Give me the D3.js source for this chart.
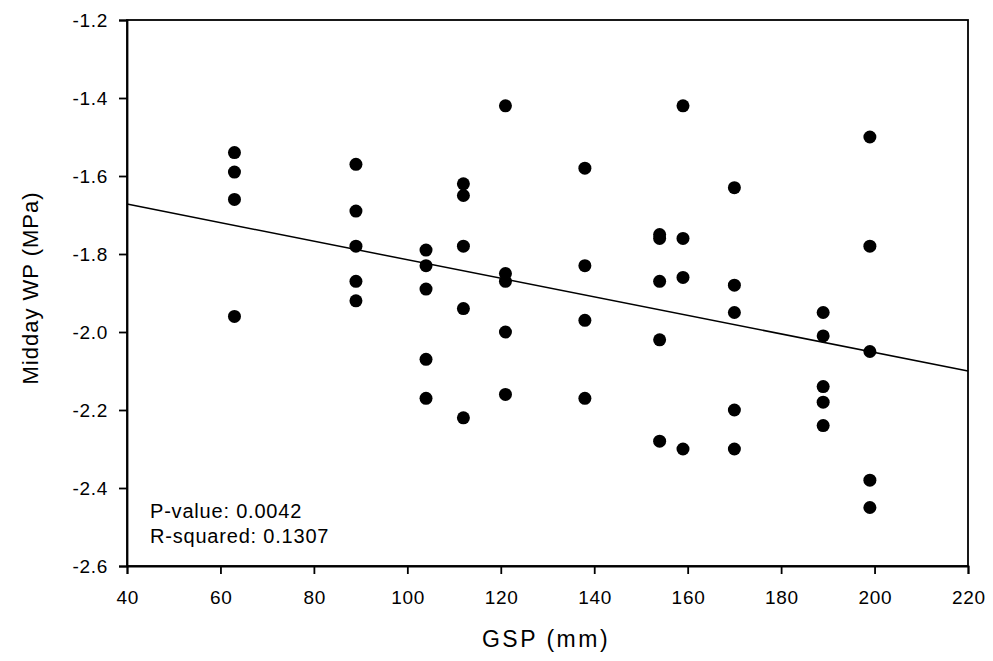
<!DOCTYPE html>
<html><head><meta charset="utf-8">
<script src="https://cdn.jsdelivr.net/npm/d3@7"></script>
<style>body{margin:0;background:#fff}svg{display:block}text{font-family:Arial,"Liberation Sans",sans-serif;fill:#000}</style>
</head><body><svg id="c" width="993" height="661"></svg>
<script>
const gsp = [63,63,63,63, 89,89,89,89,89, 104,104,104,104,104, 112,112,112,112,112,
  121,121,121,121,121, 138,138,138,138, 154,154,154,154,154, 159,159,159,159,
  170,170,170,170,170, 189,189,189,189,189, 199,199,199,199,199];
const wp = [-1.54,-1.59,-1.66,-1.96, -1.57,-1.69,-1.78,-1.87,-1.92, -1.79,-1.83,-1.89,-2.07,-2.17,
  -1.62,-1.65,-1.78,-1.94,-2.22, -1.42,-1.85,-1.87,-2.00,-2.16, -1.58,-1.83,-1.97,-2.17,
  -1.75,-1.76,-1.87,-2.02,-2.28, -1.42,-1.76,-1.86,-2.30,
  -1.63,-1.88,-1.95,-2.20,-2.30, -1.95,-2.01,-2.14,-2.18,-2.24, -1.50,-1.78,-2.05,-2.38,-2.45];
const xTicks = [40,60,80,100,120,140,160,180,200,220];
const yTicks = [-1.2,-1.4,-1.6,-1.8,-2.0,-2.2,-2.4,-2.6];
const fitLine = [[40,-1.672],[220,-2.100]];
const stats = ["P-value: 0.0042","R-squared: 0.1307"];
const xTitle = "GSP (mm)", yTitle = "Midday WP (MPa)";

const svg = d3.select("#c");
const L=127,R=968,T=20,B=566;
const x = d3.scaleLinear().domain([40,220]).range([L,R]);
const y = d3.scaleLinear().domain([-2.6,-1.2]).range([B,T]);

svg.append("rect").attr("x",L).attr("y",T).attr("width",R-L).attr("height",B-T)
  .attr("fill","none").attr("stroke","#000").attr("stroke-width",1.8);

const xa = svg.append("g").attr("transform",`translate(0,${B})`)
  .call(d3.axisBottom(x).tickValues(xTicks).tickSize(8).tickPadding(17).tickFormat(d3.format("d")));
const ya = svg.append("g").attr("transform",`translate(${L},0)`)
  .call(d3.axisLeft(y).tickValues(yTicks).tickSize(8).tickPadding(11).tickFormat(d=>d.toFixed(1)));
[xa,ya].forEach(a=>{
  a.select(".domain").attr("stroke","#000").attr("stroke-width",1.8);
  a.selectAll(".tick line").attr("stroke","#000").attr("stroke-width",1.8);
  a.selectAll(".tick text").attr("font-size",19).attr("letter-spacing","0.7px")
    .attr("font-family","Arial, 'Liberation Sans', sans-serif");
});
xa.selectAll(".tick text").attr("dx","0.35px");

svg.append("line").attr("x1",x(fitLine[0][0])).attr("y1",y(fitLine[0][1]))
  .attr("x2",x(fitLine[1][0])).attr("y2",y(fitLine[1][1]))
  .attr("stroke","#000").attr("stroke-width",1.5);

svg.append("g").selectAll("circle").data(gsp.map((g,i)=>[g,wp[i]])).join("circle")
  .attr("cx",d=>x(d[0])).attr("cy",d=>y(d[1])).attr("r",6.5).attr("fill","#000");

svg.append("g").selectAll("text").data(stats).join("text")
  .attr("x",150).attr("y",(d,i)=>518+i*25).attr("font-size",20).attr("letter-spacing","0.8px").text(d=>d);

svg.append("text").attr("x",546).attr("y",647).attr("text-anchor","middle")
  .attr("font-size",23).attr("letter-spacing","2.5px").text(xTitle);
svg.append("text").attr("transform",`translate(38,288) rotate(-90)`)
  .attr("text-anchor","middle").attr("font-size",22).attr("letter-spacing","1px").text(yTitle);
</script></body></html>
